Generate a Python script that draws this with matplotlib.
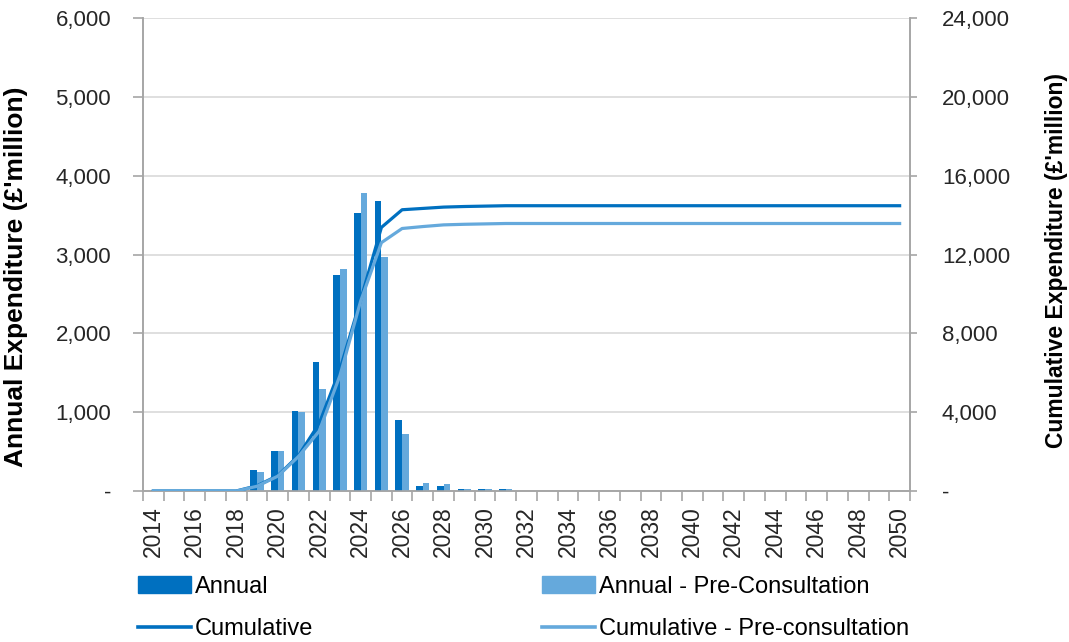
import numpy as np
import matplotlib.pyplot as plt
from matplotlib.ticker import FuncFormatter, FixedLocator
from matplotlib.patches import Patch
from matplotlib.lines import Line2D

plt.rcParams['font.family'] = ['Liberation Sans', 'DejaVu Sans']

years = list(range(2014, 2051))

# annual expenditure, £'million (2019 onwards, zeros elsewhere)
annual = [0, 0, 0, 0, 0, 266, 511, 1015, 1633, 2737, 3532, 3680, 897,
          67, 67, 30, 20, 20] + [0] * 19
annual_pre = [0, 0, 0, 0, 0, 240, 511, 999, 1290, 2817, 3778, 2966, 719,
              98, 85, 30, 20, 20] + [0] * 19

cumulative = np.cumsum(annual)
cumulative_pre = np.cumsum(annual_pre)

dark = '#0070C0'
light = '#65A9DC'
grey = '#A6A6A6'


def fmt(v, pos):
    return '-' if v == 0 else f'{v:,.0f}'


fig = plt.figure(figsize=(10.69, 6.42), dpi=100)
ax = fig.add_axes([143 / 1069, 1 - 491 / 642, (910 - 143) / 1069, (491 - 18) / 642])
ax2 = ax.twinx()

x = np.arange(len(years))
w = 0.32
ax.bar(x - w / 2, annual, width=w, color=dark, zorder=3)
ax.bar(x + w / 2, annual_pre, width=w, color=light, zorder=3)

ax2.plot(x, cumulative, color=dark, lw=2.3, zorder=4)
ax2.plot(x, cumulative_pre, color=light, lw=2.3, zorder=4)

ax.set_xlim(-0.5, len(years) - 0.5)
ax.set_ylim(0, 6000)
ax2.set_ylim(0, 24000)
ax.set_yticks(np.arange(0, 6001, 1000))
ax2.set_yticks(np.arange(0, 24001, 4000))
ax.yaxis.set_major_formatter(FuncFormatter(fmt))
ax2.yaxis.set_major_formatter(FuncFormatter(fmt))

ax.set_xticks(x[::2])
ax.set_xticklabels([str(y) for y in years[::2]], rotation=90, fontsize=16.5)
ax.xaxis.set_minor_locator(FixedLocator(np.arange(-0.5, len(years), 1)))
ax.tick_params(axis='x', which='major', length=0, pad=11, colors='#262626')
ax.tick_params(axis='x', which='minor', length=7, color=grey, width=1.2)
ax.tick_params(axis='y', length=7, color=grey, width=1.2, labelsize=16,
               labelcolor='#262626', pad=16)
ax2.tick_params(axis='y', length=5, color=grey, width=1.2, labelsize=16,
                labelcolor='#262626', pad=18)

ax.grid(axis='y', color='#D9D9D9', lw=1.2, zorder=0)
ax.set_axisbelow(True)
for a in (ax, ax2):
    a.spines['top'].set_visible(False)
    for s in ('left', 'right', 'bottom'):
        a.spines[s].set_color(grey)
        a.spines[s].set_linewidth(1.2)

ax.set_ylabel("Annual Expenditure (£'million)", fontsize=19, fontweight='bold')
ax.yaxis.set_label_coords(28 / 1069, 1 - 277 / 642, transform=fig.transFigure)
ax2.set_ylabel("Cumulative Expenditure (£'million)", fontsize=16.5,
               fontweight='bold', rotation=90)
ax2.yaxis.set_label_coords(1045 / 1069, 1 - 260 / 642, transform=fig.transFigure)

handles = [Patch(color=dark), Line2D([], [], color=dark, lw=2.6),
           Patch(color=light), Line2D([], [], color=light, lw=2.6)]
labels = ['Annual', 'Cumulative', 'Annual - Pre-Consultation',
          'Cumulative - Pre-consultation']
fig.legend(handles, labels, ncol=2, loc='upper left',
           bbox_to_anchor=(138 / 1069, 1 - 576 / 642), frameon=False,
           fontsize=17, handlelength=2.25, handletextpad=0.15,
           columnspacing=9.7, labelspacing=0.85, borderpad=0,
           borderaxespad=0)

fig.savefig('out.png', dpi=100)
